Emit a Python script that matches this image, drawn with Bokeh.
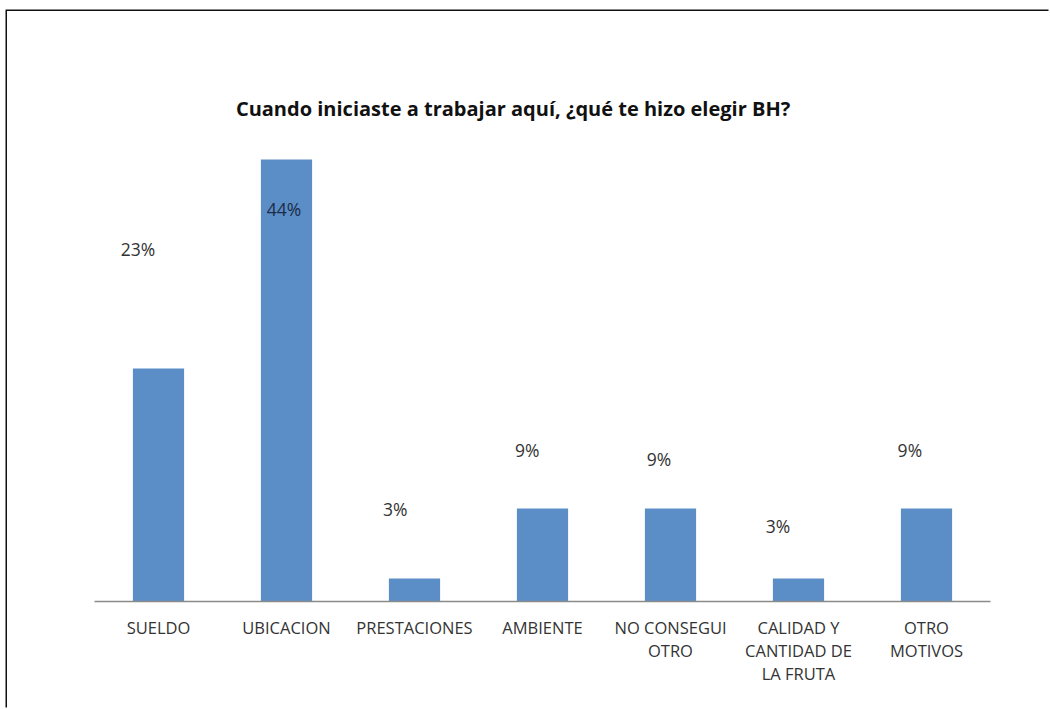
from bokeh.plotting import figure
from bokeh.models import ColumnDataSource, FactorRange, Label
from bokeh.core.properties import value
from bokeh.embed import file_html
from bokeh.resources import INLINE

categories = ["SUELDO", "UBICACION", "PRESTACIONES", "AMBIENTE",
              "NO CONSEGUI\nOTRO", "CALIDAD Y\nCANTIDAD DE\nLA FRUTA", "OTRO\nMOTIVOS"]
values = [23.3, 44.2, 2.3, 9.3, 9.3, 2.3, 9.3]
label_texts = ["23%", "44%", "3%", "9%", "9%", "3%", "9%"]
# label placement (offset in category units, height in data units)
label_dx = [-0.16, -0.02, -0.15, -0.12, -0.09, -0.16, -0.13]
label_y = [35.3, 39.3, 9.3, 15.2, 14.3, 7.6, 15.2]
title_text = "Cuando iniciaste a trabajar aquí, ¿qué te hizo elegir BH?"

FONT = "Open Sans"
BAR = "#5b8ec7"

p = figure(x_range=FactorRange(*categories, range_padding=0),
           y_range=(0, 51.1),
           width=1043, height=698,
           output_backend="svg", toolbar_location=None,
           min_border_left=87, min_border_right=60,
           min_border_top=79, min_border_bottom=108)
p.margin = (11, 0, 0, 7)
p.styles = {"box-shadow": "-1.5px -1.5px 0px 0px #111111"}
p.outline_line_color = None
p.xgrid.grid_line_color = None
p.ygrid.grid_line_color = None
p.yaxis.visible = False
p.background_fill_color = "white"
p.border_fill_color = "white"

src = ColumnDataSource(dict(cat=categories, val=values))
p.vbar(x="cat", top="val", width=0.4, source=src, fill_color=BAR, line_color=None)

lx = [i + 0.5 + d for i, d in enumerate(label_dx)]
colors = ["#333333"] * len(values)
colors[1] = "#1c2c48"
lsrc = ColumnDataSource(dict(x=lx, y=label_y, t=label_texts, c=colors))
p.text(x="x", y="y", text="t", source=lsrc, text_font=value(FONT),
       text_font_size="17.5px", text_color="c", text_align="center",
       text_baseline="middle")

p.add_layout(Label(x=3.27, y=49.3, text=title_text,
                   text_font=FONT, text_font_size="20px", text_font_style="bold",
                   text_color="#111111", text_align="center", text_baseline="middle"))

ax = p.xaxis[0]
ax.axis_line_color = "#8a8a8a"
ax.axis_line_width = 1.5
ax.major_tick_line_color = None
ax.minor_tick_line_color = None
ax.major_label_text_font = FONT
ax.major_label_text_font_size = "16.5px"
ax.major_label_text_color = "#333333"
ax.major_label_standoff = 8
ax.major_label_text_line_height = 1.0

open("out.html", "w").write(file_html(p, INLINE))
